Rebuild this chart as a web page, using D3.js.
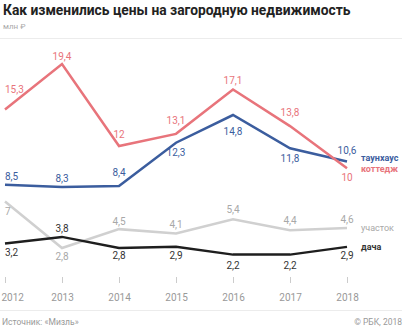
<!DOCTYPE html>
<html>
<head>
<meta charset="utf-8">
<script src="https://cdn.jsdelivr.net/npm/d3@7"></script>
<style>
  body { margin: 0; background: #fff; font-family: Roboto, "Noto Sans", sans-serif; }
  svg text { font-family: Roboto, "Noto Sans", sans-serif; }
</style>
</head>
<body>
<div id="chart"></div>
<script>
var svgWidth = 404;
var svgHeight = 328;

// Data
var years = [2012, 2013, 2014, 2015, 2016, 2017, 2018];
var cottage = [15.3, 19.4, 12, 13.1, 17.1, 13.8, 10];
var townhouse = [8.5, 8.3, 8.4, 12.3, 14.8, 11.8, 10.6];
var plot = [7, 2.8, 4.5, 4.1, 5.4, 4.4, 4.6];
var dacha = [3.2, 3.8, 2.8, 2.9, 2.2, 2.2, 2.9];

// value label offsets (px from the point, negative = above)
var cottageDy = [-16, -4, -8, -10, -6, -10, 13];
var townhouseDy = [-5, -5, -10, 13, 20, 14, -8];
var plotDy = [14, 12, -4, -6, -6, -6, -5];
var dachaDy = [12, -5, 11, 12, 14, 14, 12];

var series = [
  { name: "участок", values: plot, dy: plotDy, color: "#d0d0d0", text: "#a8a8a8", weight: "normal", ly: 231 },
  { name: "дача", values: dacha, dy: dachaDy, color: "#1e1e1e", text: "#333", weight: "bold", ly: 250 },
  { name: "таунхаус", values: townhouse, dy: townhouseDy, color: "#3b5d9e", text: "#3b5d9e", weight: "bold", ly: 161 },
  { name: "коттедж", values: cottage, dy: cottageDy, color: "#e8747b", text: "#e8747b", weight: "bold", ly: 171.5 }
];

var svg = d3.select("#chart")
  .append("svg")
  .attr("width", svgWidth)
  .attr("height", svgHeight);

// Title
svg.append("text")
  .attr("x", 3)
  .attr("y", 14.5)
  .attr("font-size", "13.8px")
  .attr("font-weight", "bold")
  .attr("fill", "#222")
  .text("Как изменились цены на загородную недвижимость");

svg.append("text")
  .attr("x", 3)
  .attr("y", 29)
  .attr("font-size", "8px")
  .attr("fill", "#aaa")
  .text("млн ₽");

svg.append("line")
  .attr("x1", 0).attr("x2", 402)
  .attr("y1", 38.5).attr("y2", 38.5)
  .attr("stroke", "#ececec");

// Scales
var x = d3.scalePoint()
  .domain(years)
  .range([5, 347]);

var y = d3.scaleLinear()
  .domain([0, 20])
  .range([279, 57.4]);

// Axis: small ticks and year labels
var axis = svg.append("g")
  .attr("transform", "translate(0, 277)")
  .call(d3.axisBottom(x).tickSize(6).tickPadding(11).tickFormat(d3.format("d")));
axis.select(".domain").remove();
axis.selectAll(".tick line").attr("stroke", "#ccc");
axis.selectAll(".tick text")
  .attr("fill", "#999")
  .attr("font-size", "10px")
  .attr("font-family", "Roboto, 'Noto Sans', sans-serif");
axis.selectAll(".tick text").filter(d => d === years[0])
  .attr("text-anchor", "start")
  .attr("dx", -4);

// Lines
var line = d3.line()
  .x((d, i) => x(years[i]))
  .y(d => y(d));

var fmt = v => String(v).replace(".", ",");

series.forEach(function(s) {
  svg.append("path")
    .datum(s.values)
    .attr("d", line)
    .attr("fill", "none")
    .attr("stroke", s.color)
    .attr("stroke-width", 2.5)
    .attr("stroke-linejoin", "miter");
});

series.forEach(function(s) {
  svg.append("g").selectAll("text")
    .data(s.values)
    .enter()
    .append("text")
    .attr("x", (d, i) => x(years[i]))
    .attr("y", (d, i) => y(d) + s.dy[i])
    .attr("text-anchor", (d, i) => i === 0 ? "start" : "middle")
    .attr("font-size", "10px")
    .attr("fill", s.text)
    .text(d => fmt(d));
});

// Series names on the right
series.forEach(function(s) {
  svg.append("text")
    .attr("x", 361)
    .attr("y", s.ly)
    .attr("font-size", "9px")
    .attr("font-weight", s.weight)
    .attr("fill", s.text)
    .text(s.name);
});

// Footer
svg.append("line")
  .attr("x1", 0).attr("x2", 402)
  .attr("y1", 310.5).attr("y2", 310.5)
  .attr("stroke", "#ececec");

svg.append("text")
  .attr("x", 2)
  .attr("y", 325)
  .attr("font-size", "8.5px")
  .attr("fill", "#999")
  .text("Источник: «Мизль»");

svg.append("text")
  .attr("x", 402)
  .attr("y", 325)
  .attr("text-anchor", "end")
  .attr("font-size", "8.5px")
  .attr("fill", "#999")
  .text("© РБК, 2018");
</script>
</body>
</html>
